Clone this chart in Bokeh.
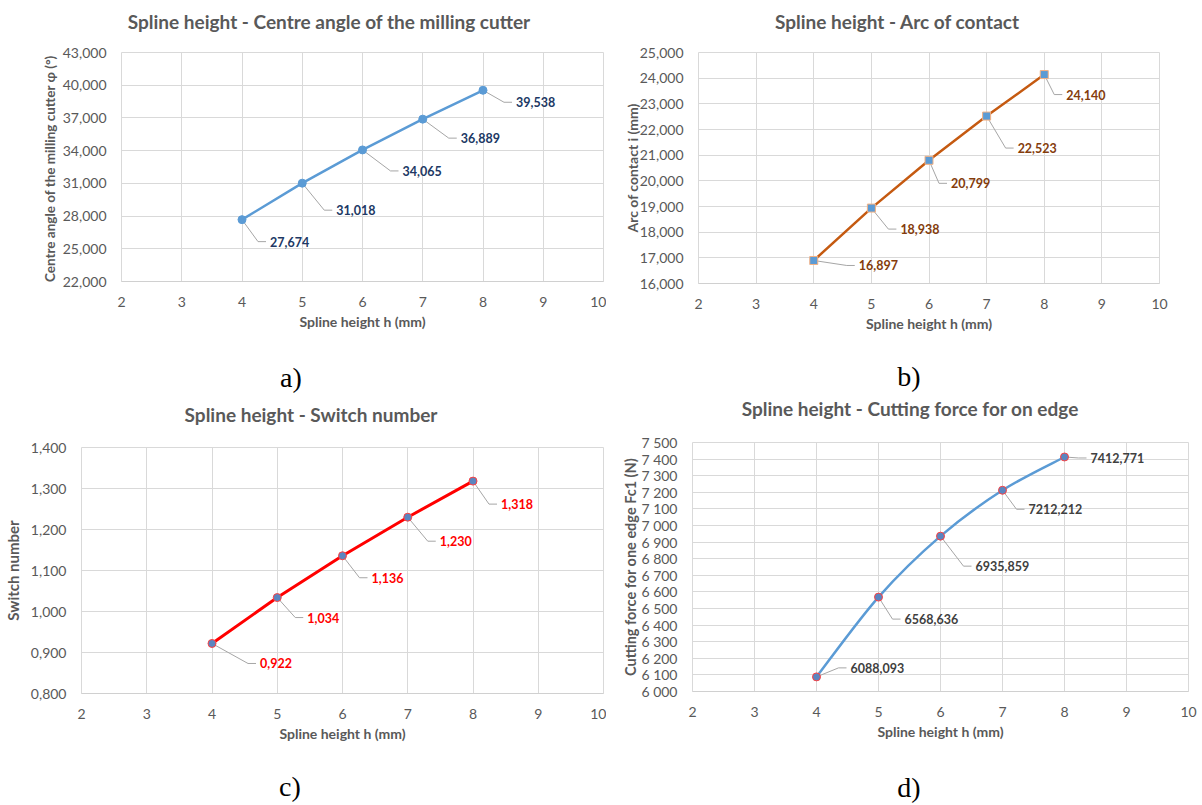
import numpy as np
from bokeh.plotting import figure
from bokeh.models import Range1d, FixedTicker, CustomJSTickFormatter, Div
from bokeh.layouts import column, row
from bokeh.embed import file_html
from bokeh.resources import INLINE
from bokeh.core.properties import value

# ---------------- data ----------------
spline_h = [4, 5, 6, 7, 8]
centre_angle = [27.674, 31.018, 34.065, 36.889, 39.538]
arc_contact = [16.897, 18.938, 20.799, 22.523, 24.140]
switch_number = [0.922, 1.034, 1.136, 1.230, 1.318]
cutting_force = [6088.093, 6568.636, 6935.859, 7212.212, 7412.771]

x_ticks = [2, 3, 4, 5, 6, 7, 8, 9, 10]
angle_ticks = [22, 25, 28, 31, 34, 37, 40, 43]
arc_ticks = [16, 17, 18, 19, 20, 21, 22, 23, 24, 25]
switch_ticks = [0.8, 0.9, 1.0, 1.1, 1.2, 1.3, 1.4]
force_ticks = [6000, 6100, 6200, 6300, 6400, 6500, 6600, 6700, 6800, 6900,
               7000, 7100, 7200, 7300, 7400, 7500]

# label placement (pixels right / down from the point)
off_a = [(28, 22), (34, 27), (40, 21), (38, 19), (33, 12)]
off_b = [(45, 5), (29, 21), (22, 23), (31, 32), (22, 20)]
off_c = [(48, 20), (30, 20), (29, 22), (32, 24), (28, 23)]
off_d = [(34, -9), (26, 22), (35, 30), (26, 19), (26, 1)]

FONT = "Lato"
FONT_V = value(FONT)
GREY = "#595959"
GRID = "#D9D9D9"

comma3 = CustomJSTickFormatter(code="return tick.toFixed(3).replace('.', ',');")
space_k = CustomJSTickFormatter(code="const s = Math.round(tick).toString(); return s.slice(0, -3) + ' ' + s.slice(-3);")


def text_div(text, W, H, cx, cy, font, size, weight, color):
    html = ('<div style="position:relative; display:block; width:max-content; white-space:nowrap; '
            f'left:{cx}px; top:{cy}px; transform:translate(-50%,-50%); line-height:1.15; '
            f'font-family:\'{font}\'; font-size:{size}; font-weight:{weight}; color:{color};">'
            f'{text}</div>')
    return Div(text=html, width=W, height=H, margin=0,
               styles={"margin": "0", "padding": "0", "overflow": "visible"})


def make_fig(W, H, T, L, R, B, yr, yticks, yfmt, ylabel, ylabel_size, ylabel_standoff):
    p = figure(width=W, height=H, x_range=Range1d(2, 10), y_range=Range1d(*yr),
               output_backend="svg", toolbar_location=None,
               min_border_left=L, min_border_right=R, min_border_top=T, min_border_bottom=B)
    p.background_fill_color = "white"
    p.border_fill_color = "white"
    p.outline_line_color = GRID

    p.xaxis.ticker = FixedTicker(ticks=x_ticks)
    p.yaxis.ticker = FixedTicker(ticks=yticks)
    p.yaxis.formatter = yfmt
    for ax in (p.xaxis, p.yaxis):
        ax.major_tick_line_color = None
        ax.minor_tick_line_color = None
        ax.major_label_text_font = FONT
        ax.major_label_text_font_size = "14px"
        ax.major_label_text_color = GREY
        ax.major_label_standoff = 9
        ax.axis_label_text_font = FONT
        ax.axis_label_text_font_style = "bold"
        ax.axis_label_text_color = GREY
    p.xaxis.axis_line_color = "#D0D0D0"
    p.yaxis.axis_line_color = None
    p.xaxis.axis_label = "Spline height h (mm)"
    p.xaxis.axis_label_text_font_size = "14px"
    p.xaxis.axis_label_standoff = 3
    p.yaxis.axis_label = ylabel
    p.yaxis.axis_label_text_font_size = ylabel_size
    p.yaxis.axis_label_standoff = ylabel_standoff
    p.xgrid.ticker = FixedTicker(ticks=x_ticks)
    p.ygrid.ticker = FixedTicker(ticks=yticks)
    p.grid.grid_line_color = GRID
    p.grid.grid_line_width = 1
    return p, W - L - R, H - T - B


def add_labels(p, xs, ys, offs, frame_w, frame_h, yr, color):
    ux = 8.0 / frame_w
    uy = (yr[1] - yr[0]) / frame_h
    lx, ly, txt, mx, my = [], [], [], [], []
    for x, y, (dx, dy) in zip(xs, ys, offs):
        lx.append(x + dx * ux)
        ly.append(y - dy * uy)
        txt.append(f"{y:.3f}".replace(".", ","))
        mx.append([x, x + (dx - 12) * ux, x + (dx - 4) * ux])
        my.append([y, y - dy * uy, y - dy * uy])
    p.multi_line(mx, my, line_color="#A6A6A6", line_width=1)
    p.text(lx, ly, text=txt, text_font=FONT_V, text_font_size="12.5px", text_font_style="bold",
           text_color=color, text_baseline="middle", text_align="left")


def panel(W, title_h, fig_h, cap_h, title, title_c, caption, cap_c, fig):
    t = text_div(title, W, title_h, title_c[0], title_c[1], FONT, "19px", "bold", GREY)
    c = text_div(caption, W, cap_h, cap_c[0], cap_c[1], "Liberation Serif", "28px", "normal", "black")
    return column(t, fig, c, spacing=0)


# ---------------- a ----------------
yr_a = (22, 43)
pa, fwa, fha = make_fig(606, 300, 12, 121, 3, 59, yr_a, angle_ticks, comma3,
                        "Centre angle of the milling cutter  \u03c6 (\u00b0)", "13.5px", 2)
add_labels(pa, spline_h, centre_angle, off_a, fwa, fha, yr_a, "#203864")
pa.line(spline_h, centre_angle, line_color="#5B9BD5", line_width=2.5)
pa.scatter(spline_h, centre_angle, marker="circle", size=8, fill_color="#5B9BD5", line_color="#5B9BD5")
col_a = panel(606, 40, 300, 60, "Spline height - Centre angle of the milling cutter", (329, 22),
              "a)", (291, 38), pa)

# ---------------- b ----------------
yr_b = (16, 25)
pb, fwb, fhb = make_fig(596, 300, 12, 92, 43, 57, yr_b, arc_ticks, comma3,
                        "Arc of contact i (mm)", "14px", -4)
add_labels(pb, spline_h, arc_contact, off_b, fwb, fhb, yr_b, "#843C0C")
pb.line(spline_h, arc_contact, line_color="#C55A11", line_width=2.5)
pb.scatter(spline_h, arc_contact, marker="square", size=8, fill_color="#5B9BD5", line_color="#F4B183")
col_b = panel(596, 40, 300, 60, "Spline height - Arc of contact", (291, 22),
              "b)", (303, 37), pb)

# ---------------- c ----------------
yr_c = (0.8, 1.4)
pc, fwc, fhc = make_fig(606, 310, 12, 81, 3, 52, yr_c, switch_ticks, comma3,
                        "Switch number", "15px", 6)
add_labels(pc, spline_h, switch_number, off_c, fwc, fhc, yr_c, "#FF0000")
pc.line(spline_h, switch_number, line_color="#FF0000", line_width=3)
pc.scatter(spline_h, switch_number, marker="circle", size=8, fill_color="#5B85C0", line_color="#FF4040")
col_c = panel(606, 35, 310, 60, "Spline height - Switch number", (311, 15),
              "c)", (290, 42), pc)

# ---------------- d ----------------
yr_d = (6000, 7500)
pd_, fwd, fhd = make_fig(596, 315, 12, 86, 14, 54, yr_d, force_ticks, space_k,
                         "Cutting force for one edge Fc1 (N)", "14.5px", -1)
add_labels(pd_, spline_h, cutting_force, off_d, fwd, fhd, yr_d, "#404040")
P = np.column_stack([np.array(spline_h, float), np.array(cutting_force, float)])
n = len(P)
x0, y0, x1, y1, cx0, cy0, cx1, cy1 = ([] for _ in range(8))
for i in range(n - 1):
    p0 = P[max(i - 1, 0)]
    p1 = P[i]
    p2 = P[i + 1]
    p3 = P[min(i + 2, n - 1)]
    c1 = p1 + (p2 - p0) / 6.0
    c2 = p2 - (p3 - p1) / 6.0
    x0.append(p1[0]); y0.append(p1[1]); x1.append(p2[0]); y1.append(p2[1])
    cx0.append(c1[0]); cy0.append(c1[1]); cx1.append(c2[0]); cy1.append(c2[1])
pd_.bezier(x0=x0, y0=y0, x1=x1, y1=y1, cx0=cx0, cy0=cy0, cx1=cx1, cy1=cy1,
           line_color="#5B9BD5", line_width=2.5)
pd_.scatter(spline_h, cutting_force, marker="circle", size=8, fill_color="#5B85C0", line_color="#FF4040")
col_d = panel(596, 30, 315, 60, "Spline height - Cutting force for on edge", (304, 9),
              "d)", (303, 43), pd_)

layout = column(row(col_a, col_b, spacing=0), row(col_c, col_d, spacing=0), spacing=0)
open("out.html", "w").write(file_html(layout, INLINE))
